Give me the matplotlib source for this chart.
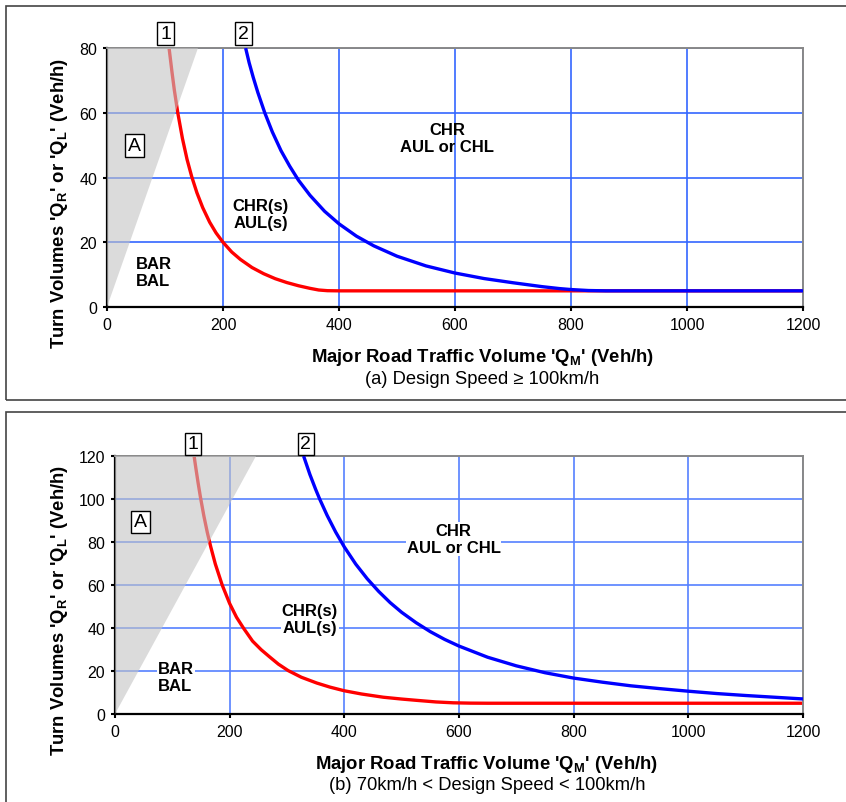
import matplotlib.pyplot as plt
from matplotlib.patches import Rectangle

plt.rcParams['font.family'] = ['Liberation Sans', 'DejaVu Sans']
plt.rcParams['mathtext.fontset'] = 'custom'
plt.rcParams['mathtext.rm'] = 'Liberation Sans'

# (a) design speed >= 100 km/h
a_curve1_x = [107, 112, 116, 122, 130, 138, 146, 155, 165, 177, 188, 200, 215, 230, 250, 270, 290, 310, 330,
              350, 365, 380, 400, 1200]
a_curve1_y = [80, 72.6, 67.1, 60, 52.1, 45.6, 40.3, 35.3, 30.7, 26.2, 22.9, 20, 17, 14.7, 12.2, 10.3, 8.76, 7.56, 6.58,
              5.77, 5.26, 5.05, 5, 5]
a_curve2_x = [239, 245, 252, 260, 272, 285, 300, 315, 330, 350, 375, 400, 430, 460, 500, 550, 600, 650, 700,
              750, 780, 800, 830, 860, 1200]
a_curve2_y = [80, 75.5, 71, 66.3, 60, 54.1, 48.3, 43.5, 39.2, 34.5, 29.6, 25.7, 21.9, 18.9, 15.7, 12.7, 10.5, 8.8, 7.5,
              6.3, 5.7, 5.4, 5.1, 5, 5]
a_zone_x = [0, 0, 157]
a_zone_y = [0, 80, 80]

# (b) 70 km/h < design speed < 100 km/h
b_curve1_x = [138, 141, 145, 149, 155, 161, 167, 175, 187, 200, 212, 224, 240, 255, 270, 285, 302, 325, 352,
              375, 400, 430, 468, 500, 526, 560, 590, 620, 650, 1200]
b_curve1_y = [120, 114.5, 107.5, 101, 92.2, 84.5, 77.8, 69.8, 60, 51.4, 45, 40, 33.9, 29.9, 26.5, 23.2, 20.2, 17.1, 14.4,
              12.5, 10.8, 9.3, 7.8, 6.95, 6.35, 5.6, 5.2, 5.05, 5, 5]
b_curve2_x = [329, 340, 350, 357, 370, 385, 400, 420, 440, 460, 480, 500, 525, 550, 575, 600, 650, 700, 750,
              800, 850, 900, 950, 1000, 1050, 1100, 1150, 1200]
b_curve2_y = [120, 111.4, 104.5, 100, 92.4, 84.6, 77.7, 69.7, 62.9, 57, 51.8, 47.3, 42.5, 38.3, 34.7, 31.6, 26.4, 22.4, 19.2,
              16.7, 14.8, 13.1, 11.8, 10.6, 9.5, 8.6, 7.8, 7]
b_zone_x = [0, 0, 246]
b_zone_y = [0, 120, 120]

fig = plt.figure(figsize=(8.46, 8.03), dpi=100)

# panel frames
fig.patches.append(Rectangle((0.0071, 0.5006), 1.0, 0.4907, transform=fig.transFigure,
                             fill=False, edgecolor='#444444', lw=1.2))
fig.patches.append(Rectangle((0.0071, -0.05), 1.0, 0.5357, transform=fig.transFigure,
                             fill=False, edgecolor='#444444', lw=1.2))

ax1 = fig.add_axes([0.1265, 0.6164, 0.8227, 0.3225])
ax2 = fig.add_axes([0.1359, 0.1096, 0.8132, 0.3213])


def style(ax, ymax, ystep, gridcolor, labelx):
    ax.set_xlim(0, 1200)
    ax.set_ylim(0, ymax)
    ax.set_xticks(range(0, 1201, 200))
    ax.set_yticks(range(0, ymax + 1, ystep))
    ax.set_axisbelow(True)
    ax.grid(True, color=gridcolor, lw=1.2)
    for s in ['left', 'bottom']:
        ax.spines[s].set_color('black')
        ax.spines[s].set_linewidth(1.6)
    for s in ['top', 'right']:
        ax.spines[s].set_color('#888888')
        ax.spines[s].set_linewidth(1.4)
    ax.tick_params(direction='out', length=3, width=1.5, labelsize=11.5, colors='black', pad=4)
    ax.set_ylabel("Turn Volumes 'Q$_\\mathregular{R}$' or 'Q$_\\mathregular{L}$' (Veh/h)",
                  fontsize=13.3, fontweight='bold')
    ax.yaxis.set_label_coords(labelx, 0.405)


def boxed(ax, x, y, s):
    ax.text(x, y, s, fontsize=14, ha='center', va='center', clip_on=False, zorder=6,
            bbox=dict(boxstyle='square,pad=0.15', facecolor='white', edgecolor='black', lw=1.0))


# ---- panel (a)
style(ax1, 80, 20, '#3366ff', -0.053)
ax1.plot(a_curve1_x, a_curve1_y, color='red', lw=2.4, zorder=2, solid_capstyle='butt')
ax1.fill(a_zone_x, a_zone_y, color='#c4c4c4', alpha=0.6, lw=0, zorder=3)
ax1.plot(a_curve2_x, a_curve2_y, color='#0000ff', lw=2.4, zorder=4, solid_capstyle='butt')
boxed(ax1, 101, 84.4, '1')
boxed(ax1, 235, 84.4, '2')
boxed(ax1, 48, 50, 'A')
ax1.text(50, 10.8, 'BAR\nBAL', fontsize=12, fontweight='bold', ha='left', va='center', zorder=5)
ax1.text(265, 28.7, 'CHR(s)\nAUL(s)', fontsize=12, fontweight='bold', ha='center', va='center', zorder=5)
ax1.text(586, 52.2, 'CHR\nAUL or CHL', fontsize=12, fontweight='bold', ha='center', va='center', zorder=5)
fig.text(483 / 846, 1 - 358 / 803, "Major Road Traffic Volume 'Q$_\\mathregular{M}$' (Veh/h)",
         fontsize=13.3, fontweight='bold', ha='center', va='center')
fig.text(482 / 846, 1 - 380 / 803, "(a) Design Speed \u2265 100km/h", fontsize=13.2, ha='center', va='center')

# ---- panel (b)
style(ax2, 120, 20, '#5580ff', -0.065)
wb = dict(facecolor='white', edgecolor='none', pad=0.5)
ax2.plot(b_curve1_x, b_curve1_y, color='red', lw=2.4, zorder=2, solid_capstyle='butt')
ax2.fill(b_zone_x, b_zone_y, color='#c4c4c4', alpha=0.6, lw=0, zorder=3)
ax2.plot(b_curve2_x, b_curve2_y, color='#0000ff', lw=2.4, zorder=4, solid_capstyle='butt')
boxed(ax2, 136, 125.6, '1')
boxed(ax2, 333, 125.6, '2')
boxed(ax2, 44, 89.3, 'A')
ax2.text(75, 17.2, 'BAR\nBAL', fontsize=12, fontweight='bold', ha='left', va='center', zorder=5, bbox=wb)
ax2.text(340, 44.2, 'CHR(s)\nAUL(s)', fontsize=12, fontweight='bold', ha='center', va='center', zorder=5, bbox=wb)
ax2.text(591, 81.4, 'CHR\nAUL or CHL', fontsize=12, fontweight='bold', ha='center', va='center', zorder=5, bbox=wb)
fig.text(487 / 846, 1 - 765 / 803, "Major Road Traffic Volume 'Q$_\\mathregular{M}$' (Veh/h)",
         fontsize=13.3, fontweight='bold', ha='center', va='center')
fig.text(487 / 846, 1 - 786 / 803, "(b) 70km/h < Design Speed < 100km/h", fontsize=13.2, ha='center', va='center')

fig.savefig('out.png', dpi=100)
